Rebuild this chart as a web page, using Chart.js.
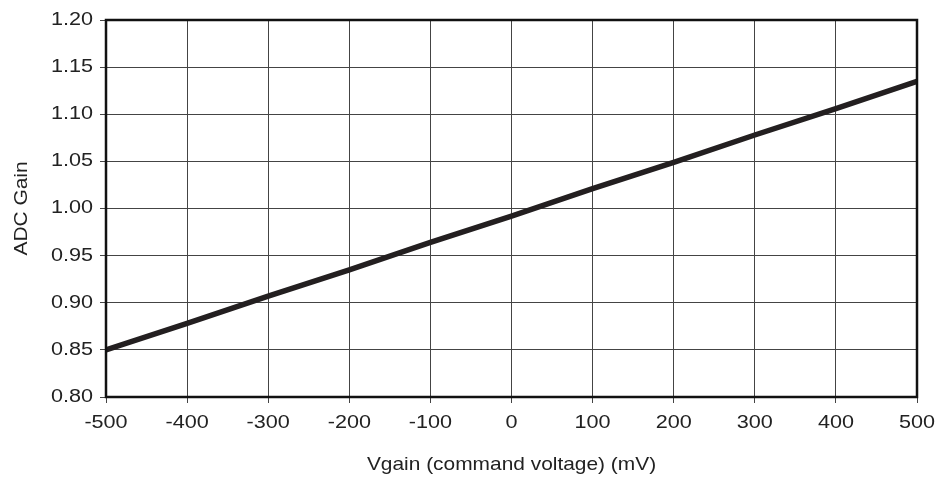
<!DOCTYPE html>
<html>
<head>
<meta charset="utf-8">
<script src="https://cdn.jsdelivr.net/npm/chart.js@4/dist/chart.umd.min.js"></script>
<style>
html,body{margin:0;padding:0;background:#fff;}
#wrap{width:950px;height:478px;}
</style>
</head>
<body>
<div id="wrap"><canvas id="c" width="950" height="478"></canvas></div>
<script>
const vgain = [-500, -400, -300, -200, -100, 0, 100, 200, 300, 400, 500];
const adcGain = [0.850, 0.878, 0.907, 0.935, 0.964, 0.992, 1.021, 1.049, 1.078, 1.106, 1.135];
const xTicks = [-500, -400, -300, -200, -100, 0, 100, 200, 300, 400, 500];
const yTicks = [0.80, 0.85, 0.90, 0.95, 1.00, 1.05, 1.10, 1.15, 1.20];

const canvas = document.getElementById('c');
const ctx2d = canvas.getContext('2d');
// the reference lettering is horizontally widened; draw text with a horizontal stretch
ctx2d.fillText = function (t, x, y) {
  const sx = this.font.indexOf('19px') >= 0 ? 1.1 : 1.2;
  this.save();
  this.translate(x, y);
  this.scale(sx, 1);
  CanvasRenderingContext2D.prototype.fillText.call(this, t, 0, 0);
  this.restore();
};

const frame = {
  id: 'frame',
  afterDraw(chart) {
    const a = chart.chartArea, ctx = chart.ctx;
    ctx.save();
    ctx.strokeStyle = '#111';
    ctx.lineWidth = 2.5;
    ctx.strokeRect(a.left, a.top, a.right - a.left, a.bottom - a.top);
    ctx.restore();
  }
};

const fam = '"Liberation Sans", Arial, sans-serif';
const tickFont = {family: fam, size: 18};
const titleFont = {family: fam, size: 19};

new Chart(canvas, {
  type: 'scatter',
  data: {
    datasets: [{
      data: vgain.map((v, i) => ({x: v, y: adcGain[i]})),
      showLine: true,
      borderColor: '#231f20',
      borderWidth: 5.5,
      pointRadius: 0,
      tension: 0
    }]
  },
  options: {
    responsive: false,
    animation: false,
    layout: {padding: {top: 20, right: 33, left: 0, bottom: 0}},
    plugins: {legend: {display: false}, tooltip: {enabled: false}},
    scales: {
      x: {
        type: 'linear', min: -500, max: 500,
        afterBuildTicks: s => { s.ticks = xTicks.map(v => ({value: v})); },
        afterFit: s => { s.height = 81; },
        grid: {color: '#444', lineWidth: 1, tickLength: 6, drawTicks: true},
        border: {display: false},
        ticks: {color: '#222', font: tickFont, padding: 9, maxRotation: 0},
        title: {display: true, text: 'Vgain (command voltage) (mV)', color: '#222', font: titleFont, padding: {top: 0, bottom: 2}}
      },
      y: {
        type: 'linear', min: 0.80, max: 1.20,
        afterBuildTicks: s => { s.ticks = yTicks.map(v => ({value: v})); },
        afterFit: s => { s.width = 106; },
        grid: {color: '#444', lineWidth: 1, tickLength: 6, drawTicks: true},
        border: {display: false},
        ticks: {color: '#222', font: tickFont, padding: 7, callback: v => v.toFixed(2)},
        title: {display: true, text: 'ADC Gain', color: '#222', font: titleFont, padding: {top: 10, bottom: 0}}
      }
    }
  },
  plugins: [frame]
});
</script>
</body>
</html>
